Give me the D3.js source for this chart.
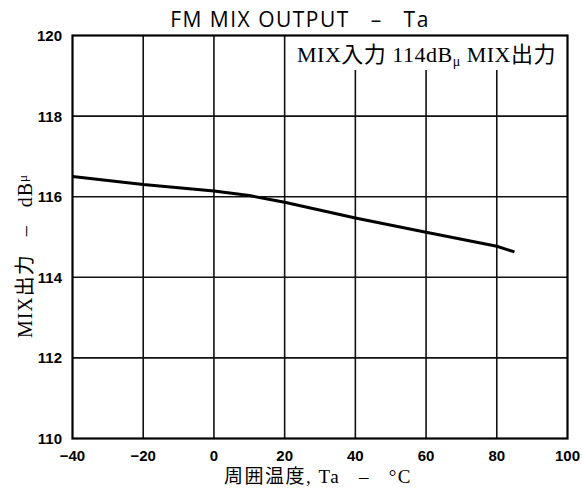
<!DOCTYPE html>
<html>
<head>
<meta charset="utf-8">
<script src="https://cdn.jsdelivr.net/npm/d3@7"></script>
<style>
  body { margin: 0; background: #fff; }
  svg { display: block; }
</style>
</head>
<body>
<svg id="chart"></svg>
<script>
// values
const temps = [-40, -20, 0, 10, 20, 40, 60, 80, 85];
const mixOut = [116.5, 116.3, 116.14, 116.03, 115.86, 115.47, 115.12, 114.77, 114.63];
const xTicks = [-40, -20, 0, 20, 40, 60, 80, 100];
const yTicks = [110, 112, 114, 116, 118, 120];

const width = 582, height = 491;
const margin = {top: 35.5, right: 14.5, bottom: 52.5, left: 72.5};

const svg = d3.select('#chart')
    .attr('width', width)
    .attr('height', height);

const x = d3.scaleLinear().domain([-40, 100]).range([margin.left, width - margin.right]);
const y = d3.scaleLinear().domain([110, 120]).range([height - margin.bottom, margin.top]);

// grid
svg.append('g')
    .selectAll('line')
    .data(xTicks.slice(1, -1))
    .enter()
    .append('line')
    .attr('x1', d => x(d)).attr('x2', d => x(d))
    .attr('y1', d => d >= 40 ? 70 : y(120))
    .attr('y2', y(110))
    .attr('stroke', '#111')
    .attr('stroke-width', 1.6);

svg.append('g')
    .selectAll('line')
    .data(yTicks.slice(1, -1))
    .enter()
    .append('line')
    .attr('x1', x(-40)).attr('x2', x(100))
    .attr('y1', d => y(d)).attr('y2', d => y(d))
    .attr('stroke', '#111')
    .attr('stroke-width', 1.6);

// frame
svg.append('rect')
    .attr('x', x(-40)).attr('y', y(120))
    .attr('width', x(100) - x(-40))
    .attr('height', y(110) - y(120))
    .attr('fill', 'none')
    .attr('stroke', '#000')
    .attr('stroke-width', 2.2);

// axes labels
svg.append('g')
    .selectAll('text')
    .data(xTicks)
    .enter()
    .append('text')
    .attr('x', d => x(d))
    .attr('y', 461)
    .attr('text-anchor', 'middle')
    .style('font-family', 'Liberation Sans, Arial, sans-serif')
    .style('font-weight', 'bold')
    .style('font-size', '15px')
    .text(d => d < 0 ? '\u2212' + Math.abs(d) : d);

svg.append('g')
    .selectAll('text')
    .data(yTicks)
    .enter()
    .append('text')
    .attr('x', 62)
    .attr('y', d => y(d))
    .attr('dy', '0.36em')
    .attr('text-anchor', 'end')
    .style('font-family', 'Liberation Sans, Arial, sans-serif')
    .style('font-weight', 'bold')
    .style('font-size', '15px')
    .text(d => d);

// curve
const line = d3.line()
    .x((d, i) => x(temps[i]))
    .y(d => y(d));

svg.append('path')
    .datum(mixOut)
    .attr('d', line)
    .attr('fill', 'none')
    .attr('stroke', '#000')
    .attr('stroke-width', 3);

// title
svg.append('text')
    .attr('x', 300)
    .attr('y', 27)
    .attr('text-anchor', 'middle')
    .style('font-family', 'Open Sans, Liberation Sans, sans-serif')
    .style('font-size', '21px')
    .style('letter-spacing', '1.5px')
    .attr('xml:space', 'preserve')
    .text('FM MIX OUTPUT   \u2013   Ta');

// annotation
const note = svg.append('text')
    .attr('x', 297)
    .attr('y', 62)
    .attr('xml:space', 'preserve')
    .style('font-family', 'Liberation Serif, Noto Sans CJK JP, serif')
    .style('font-size', '22px')
    .style('letter-spacing', '0.5px');
note.append('tspan').text('MIX入力 114dB');
note.append('tspan').attr('dy', 4).style('font-size', '14px').text('\u03bc');
note.append('tspan').attr('dy', -4).text(' MIX出力');

// x title
svg.append('text')
    .attr('x', 318)
    .attr('y', 483)
    .attr('text-anchor', 'middle')
    .attr('xml:space', 'preserve')
    .style('font-family', 'Liberation Serif, Noto Sans CJK JP, serif')
    .style('font-size', '19px')
    .style('letter-spacing', '1.5px')
    .text('周囲温度, Ta   \u2013   \u00b0C');

// y title
const yt = svg.append('text')
    .attr('transform', 'translate(32,256) rotate(-90)')
    .attr('text-anchor', 'middle')
    .attr('xml:space', 'preserve')
    .style('font-family', 'Liberation Serif, Noto Sans CJK JP, serif')
    .style('font-size', '20px')
    .style('letter-spacing', '1px')
    .text('MIX出力   \u2013   dB');
yt.append('tspan').attr('dy', -5).style('font-size', '13px').text('\u03bc');
</script>
</body>
</html>
